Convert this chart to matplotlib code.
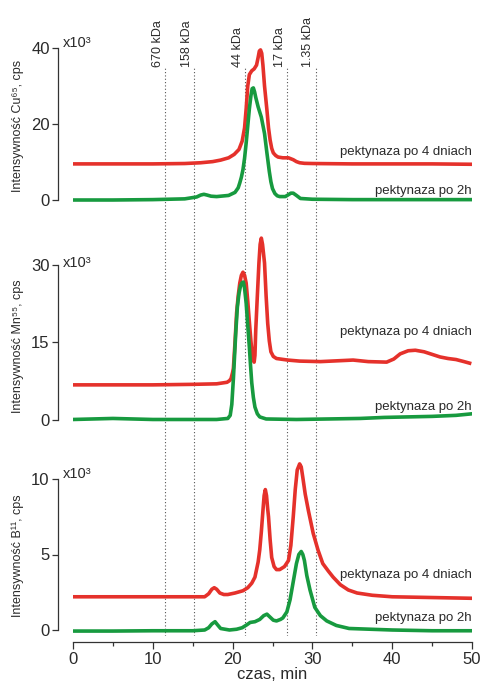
import matplotlib
matplotlib.use("Agg")
import matplotlib.pyplot as plt

plt.rcParams['font.family'] = ['Liberation Sans', 'DejaVu Sans']

W, H = 484, 684

# --- data ---
# Cu65
cu_4d_t = [0, 5, 10, 14, 16, 17.5, 18.5, 19.5, 20.2, 20.8, 21.2, 21.5, 21.7, 21.9, 22.1, 22.4, 22.7, 23.0,
           23.2, 23.35, 23.5, 23.65, 23.8, 24.0, 24.3, 24.5, 24.7, 24.9, 25.1, 25.4, 25.7, 26.3, 27.0,
           27.6, 28.0, 28.4, 29, 30, 35, 40, 45, 50]
cu_4d_v = [9.5, 9.5, 9.5, 9.6, 9.8, 10.1, 10.5, 11.1, 12.0, 13.3, 15.5, 19, 24, 30, 33, 34.0, 34.5, 35.5,
           37.5, 39.2, 39.5, 38.6, 35.5, 30, 23.7, 19, 15.8, 13.6, 12.4, 11.7, 11.3, 11.1, 11.1,
           10.6, 10.1, 9.8, 9.65, 9.6, 9.5, 9.5, 9.5, 9.4]
cu_2h_t = [0, 5, 10, 14, 15.5, 16.0, 16.4, 16.8, 17.3, 18, 19.5, 20.3, 20.7, 20.9, 21.1, 21.3, 21.5, 21.7,
           21.9, 22.1, 22.3, 22.45, 22.6, 22.75, 22.9, 23.2, 23.6, 24.0, 24.3, 24.6, 24.8, 25.0, 25.3,
           25.6, 25.9, 26.6, 27.0, 27.3, 27.6, 28.0, 28.5, 30, 35, 40, 45, 50]
cu_2h_v = [0, 0, 0.1, 0.3, 0.8, 1.3, 1.5, 1.3, 1.0, 0.9, 1.2, 2.0, 3.2, 4.5, 6, 8, 11, 15,
           19.5, 24, 27.5, 29.3, 29.5, 28.5, 27, 24.5, 21.8, 17.5, 12.4, 7.5, 4.8, 3.0, 1.7,
           1.1, 0.9, 0.9, 1.4, 1.8, 1.8, 1.2, 0.4, 0.2, 0.1, 0.1, 0.1, 0.1]

# Mn55
mn_4d_t = [0, 5, 10, 15, 18, 19.3, 19.6, 19.8, 20.0, 20.1, 20.3, 20.5, 20.7, 20.9, 21.1, 21.3, 21.5, 21.7,
           21.9, 22.1, 22.3, 22.5, 22.6, 22.7, 22.8, 22.9, 23.1, 23.3, 23.45, 23.6, 23.75, 24.0, 24.2,
           24.4, 24.6, 24.8, 25.1, 25.5, 26.9, 28.4, 31, 35.1, 37, 39.3, 40.2, 41, 42, 42.9, 44, 45,
           46, 47, 48, 49, 49.7]
mn_4d_v = [6.8, 6.8, 6.8, 6.9, 7.0, 7.3, 7.6, 8.0, 9.2, 10, 15, 20.7, 24, 26.5, 28, 28.6, 28, 26.5,
           23, 19, 15.2, 12.2, 11.5, 11.2, 12.5, 17.4, 24, 30.4, 34, 35.2, 34, 30.4, 24,
           18.7, 15.3, 13.2, 12.3, 11.9, 11.6, 11.4, 11.3, 11.6, 11.3, 11.2, 11.8, 12.8, 13.4, 13.5, 13.2, 12.7,
           12.2, 11.9, 11.7, 11.3, 11.0]
mn_2h_t = [0, 5, 10, 15, 18, 19.4, 19.7, 19.9, 20.1, 20.2, 20.4, 20.6, 20.8, 21.0, 21.2, 21.35, 21.5, 21.7,
           21.9, 22.1, 22.25, 22.4, 22.6, 22.8, 23.1, 23.4, 24.2, 28, 32, 36, 39, 42, 45, 48, 50]
mn_2h_v = [0.1, 0.3, 0.1, 0.1, 0.1, 0.3, 0.9, 3, 8, 11, 17, 21.9, 24.5, 26, 26.6, 26.7, 25.5, 22.6,
           18.3, 14.1, 10.5, 7.2, 4.4, 2.5, 1.2, 0.6, 0.2, 0.1, 0.2, 0.3, 0.5, 0.6, 0.7, 0.9, 1.2]

# B11
b_4d_t = [0, 5, 10, 15, 16.5, 17.0, 17.4, 17.7, 18.0, 18.4, 18.9, 19.4, 20.3, 21.3, 21.9, 22.4, 22.8, 23.0,
          23.2, 23.4, 23.6, 23.8, 23.95, 24.1, 24.25, 24.4, 24.5, 24.7, 24.9, 25.2, 25.5, 25.9, 26.5,
          27.0, 27.3, 27.6, 27.85, 28.1, 28.4, 28.6, 28.8, 29.1, 29.5, 30.1, 30.7, 31.3, 32.0, 32.6,
          33.5, 34.5, 35.6, 37.5, 40, 45, 50]
b_4d_v = [2.2, 2.2, 2.2, 2.2, 2.2, 2.4, 2.7, 2.8, 2.7, 2.45, 2.35, 2.35, 2.45, 2.6, 2.8, 3.1, 3.5, 4.0,
          4.5, 5.3, 6.5, 7.9, 8.9, 9.3, 8.9, 8.0, 7.5, 6.0, 4.8, 4.2, 4.0, 4.0, 4.2,
          4.6, 5.6, 7.5, 9.3, 10.6, 11.0, 10.8, 10.1, 9.0, 7.9, 6.4, 5.3, 4.4, 3.9, 3.5,
          3.0, 2.65, 2.45, 2.3, 2.2, 2.15, 2.1]
b_2h_t = [0, 5, 10, 15, 16.5, 17.0, 17.4, 17.8, 18.1, 18.5, 19.6, 20.5, 21.2, 21.8, 22.2, 22.8, 23.4, 23.9,
          24.3, 24.7, 25.1, 25.5, 26.0, 26.3, 26.8, 27.2, 27.6, 28.0, 28.3, 28.6, 28.8, 29.0, 29.3,
          29.7, 30.3, 31.0, 31.8, 33, 34.6, 40, 45, 50]
b_2h_v = [-0.07, -0.07, -0.05, -0.05, 0.0, 0.15, 0.4, 0.55, 0.35, 0.1, 0.0, 0.05, 0.15, 0.35, 0.5, 0.55, 0.7, 0.95,
          1.05, 0.85, 0.65, 0.6, 0.7, 0.8, 1.2, 2.0, 3.2, 4.4, 5.0, 5.2, 5.0, 4.6, 3.6,
          2.65, 1.5, 0.95, 0.6, 0.3, 0.1, 0.0, -0.05, -0.05]

markers_t = [11.5, 15.2, 21.6, 26.8, 30.4]
markers_lbl = ['670 kDa', '158 kDa', '44 kDa', '17 kDa', '1.35 kDa']

RED = '#e5312b'
GREEN = '#179a3f'
TXT = '#2a2a2a'

fig = plt.figure(figsize=(W / 100, H / 100), dpi=100, facecolor='white')

def rect(top, bottom, left=73, right=472):
    return [left / W, 1 - bottom / H, (right - left) / W, (bottom - top) / H]

# dotted marker lines, spanning all panels
ov = fig.add_axes(rect(67, 636))
ov.set_xlim(0, 50)
ov.set_ylim(0, 1)
ov.axis('off')
for t, lbl in zip(markers_t, markers_lbl):
    ov.axvline(t, color='#555555', lw=0.8, ls=(0, (1, 2)))
    ov.text(t - 0.15, 1.0, lbl, rotation=90, ha='right', va='bottom', fontsize=9, color=TXT)

panels = [
    dict(top=40, bot=205, zero=200, scale=3.8, ymax=40, ticks=[0, 20, 40],
         r=(cu_4d_t, cu_4d_v), g=(cu_2h_t, cu_2h_v), lab='Intensywność Cu⁶⁵, cps',
         laby=126, xy=43, ty4=152, ty2=191),
    dict(top=225, bot=425, zero=420, scale=5.167, ymax=30, ticks=[0, 15, 30],
         r=(mn_4d_t, mn_4d_v), g=(mn_2h_t, mn_2h_v), lab='Intensywność Mn⁵⁵, cps',
         laby=346, xy=263, ty4=332, ty2=407),
    dict(top=455, bot=642, zero=630, scale=15.1, ymax=10, ticks=[0, 5, 10],
         r=(b_4d_t, b_4d_v), g=(b_2h_t, b_2h_v), lab='Intensywność B¹¹, cps',
         laby=556, xy=474, ty4=575, ty2=618),
]

for i, p in enumerate(panels):
    ax = fig.add_axes(rect(p['top'], p['bot']))
    ax.set_facecolor('none')
    ax.set_xlim(0, 50)
    ax.set_ylim((p['zero'] - p['bot']) / p['scale'], (p['zero'] - p['top']) / p['scale'])
    ax.plot(p['r'][0], p['r'][1], color=RED, lw=2.6, solid_joinstyle='round')
    ax.plot(p['g'][0], p['g'][1], color=GREEN, lw=2.6, solid_joinstyle='round')

    for s in ['top', 'right']:
        ax.spines[s].set_visible(False)
    ax.spines['left'].set_position(('outward', 10.8))
    ax.spines['left'].set_bounds(0, p['ymax'])
    ax.spines['left'].set_linewidth(0.9)
    ax.spines['left'].set_color('#333333')
    ax.set_yticks(p['ticks'])
    ax.tick_params(axis='y', direction='out', length=4.5, width=0.9, pad=1.5,
                   labelsize=12, colors='#333333', labelcolor=TXT)

    if i < 2:
        ax.spines['bottom'].set_visible(False)
        ax.set_xticks([])
    else:
        ax.spines['bottom'].set_linewidth(0.9)
        ax.spines['bottom'].set_color('#333333')
        ax.set_xticks([0, 10, 20, 30, 40, 50])
        ax.set_xticks([5, 15, 25, 35, 45], minor=True)
        ax.tick_params(axis='x', which='major', direction='out', length=5, width=0.9, pad=2,
                       labelsize=12, colors='#333333', labelcolor=TXT)
        ax.tick_params(axis='x', which='minor', direction='out', length=3, width=0.9, colors='#333333')
        ax.set_xlabel('czas, min', fontsize=12, color=TXT, labelpad=0)

    fig.text(18 / W, 1 - p['laby'] / H, p['lab'], rotation=90, ha='center', va='center',
             fontsize=9, color=TXT)
    fig.text(63 / W, 1 - p['xy'] / H, 'x10³', ha='left', va='center', fontsize=10.5, color=TXT)
    ax.text(50, (p['zero'] - p['ty4']) / p['scale'], 'pektynaza po 4 dniach', ha='right', va='center',
            fontsize=9.5, color=TXT)
    ax.text(50, (p['zero'] - p['ty2']) / p['scale'], 'pektynaza po 2h', ha='right', va='center',
            fontsize=9.5, color=TXT)

fig.savefig('out.png', dpi=100, facecolor='white')
